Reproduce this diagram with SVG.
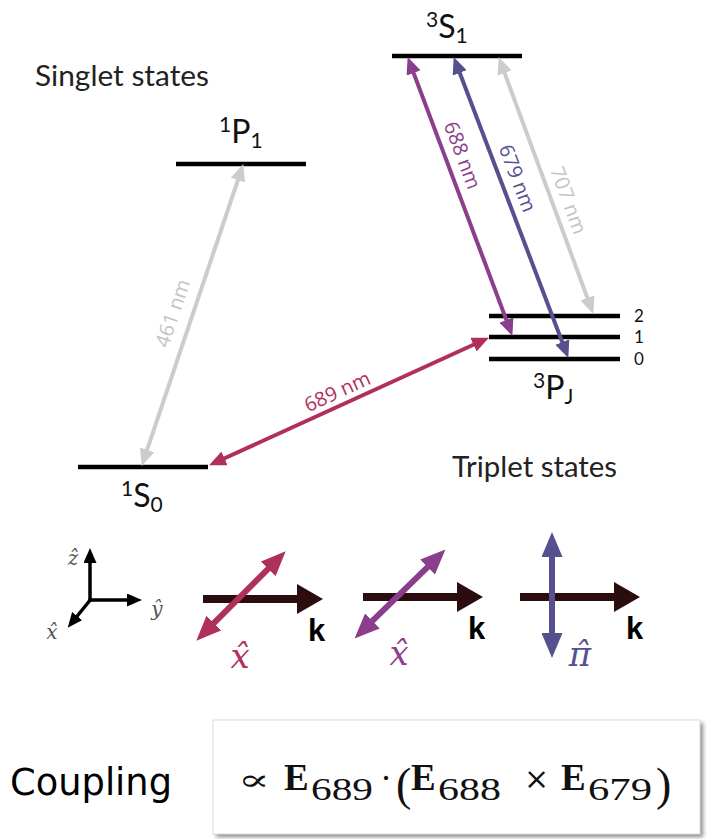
<svg xmlns="http://www.w3.org/2000/svg" width="713" height="839" viewBox="0 0 713 839">
<style>
.lvl{stroke:#000;stroke-width:4.5}
.lab{font-family:Lato,"Open Sans",sans-serif;font-size:32px;fill:#111}
.sm{font-size:21px}
.num{font-family:Lato,"Open Sans",sans-serif;font-size:17px;fill:#111}
.hdr{font-family:Lato,"Open Sans",sans-serif;font-size:28px;fill:#222}
.nm{font-family:"Open Sans","Noto Sans",sans-serif;font-size:20px;text-anchor:middle;dominant-baseline:central}
.math{font-family:"DejaVu Serif","Liberation Serif",serif;font-style:italic;text-anchor:middle}
.k{font-family:"Liberation Sans",Arial,sans-serif;font-weight:bold;font-size:31px;fill:#000}
.frm{font-family:"Liberation Serif","DejaVu Serif",serif;fill:#111}
</style>
<defs>
<marker id="hGray" markerUnits="userSpaceOnUse" markerWidth="17" markerHeight="15" refX="6" refY="7.5" orient="auto-start-reverse"><path d="M0,0 L17,7.5 L0,15 z" fill="#cccccc"/></marker>
<marker id="hPur" markerUnits="userSpaceOnUse" markerWidth="17" markerHeight="15" refX="6" refY="7.5" orient="auto-start-reverse"><path d="M0,0 L17,7.5 L0,15 z" fill="#8a3e8c"/></marker>
<marker id="hInd" markerUnits="userSpaceOnUse" markerWidth="17" markerHeight="15" refX="6" refY="7.5" orient="auto-start-reverse"><path d="M0,0 L17,7.5 L0,15 z" fill="#56508f"/></marker>
<marker id="hCrim" markerUnits="userSpaceOnUse" markerWidth="17" markerHeight="15" refX="6" refY="7.5" orient="auto-start-reverse"><path d="M0,0 L17,7.5 L0,15 z" fill="#b0305c"/></marker>
<marker id="hBlk" markerUnits="userSpaceOnUse" markerWidth="15" markerHeight="13" refX="5" refY="6.5" orient="auto"><path d="M0,0 L15,6.5 L0,13 z" fill="#000"/></marker>
<marker id="hK" markerUnits="userSpaceOnUse" markerWidth="26" markerHeight="30" refX="12" refY="15" orient="auto"><path d="M0,0 L26,15 L0,30 z" fill="#2b0d0f"/></marker>
<marker id="tCrim" markerUnits="userSpaceOnUse" markerWidth="25" markerHeight="21" refX="9" refY="10.5" orient="auto-start-reverse"><path d="M0,0 L25,10.5 L0,21 z" fill="#b0305c"/></marker>
<marker id="tPur" markerUnits="userSpaceOnUse" markerWidth="25" markerHeight="21" refX="9" refY="10.5" orient="auto-start-reverse"><path d="M0,0 L25,10.5 L0,21 z" fill="#8a3e8c"/></marker>
<marker id="tInd" markerUnits="userSpaceOnUse" markerWidth="25" markerHeight="21" refX="9" refY="10.5" orient="auto-start-reverse"><path d="M0,0 L25,10.5 L0,21 z" fill="#56508f"/></marker>
<filter id="sh" x="-5%" y="-5%" width="110%" height="115%"><feGaussianBlur stdDeviation="2"/></filter>
</defs>
<rect width="713" height="839" fill="#fff"/>

<text class="hdr" x="35" y="86" textLength="174" lengthAdjust="spacingAndGlyphs">Singlet states</text>
<text class="hdr" x="452" y="477" textLength="165" lengthAdjust="spacingAndGlyphs">Triplet states</text>

<g id="S1_3">
<line class="lvl" x1="392" y1="56" x2="522" y2="56"/>
<text class="lab" x="426" y="38"><tspan class="sm" dy="-11">3</tspan><tspan dy="11">S</tspan><tspan class="sm" dy="5">1</tspan></text>
</g>
<g id="P1_1">
<line class="lvl" x1="176" y1="164" x2="306" y2="164"/>
<text class="lab" x="219" y="143"><tspan class="sm" dy="-11">1</tspan><tspan dy="11">P</tspan><tspan class="sm" dy="5">1</tspan></text>
</g>
<g id="S0_1">
<line class="lvl" x1="78" y1="467" x2="208" y2="467"/>
<text class="lab" x="121" y="507"><tspan class="sm" dy="-11">1</tspan><tspan dy="11">S</tspan><tspan class="sm" dy="5">0</tspan></text>
</g>
<g id="PJ_3">
<line class="lvl" x1="489" y1="316" x2="620" y2="316"/>
<line class="lvl" x1="489" y1="337" x2="620" y2="337"/>
<line class="lvl" x1="489" y1="359" x2="620" y2="359"/>
<text class="num" x="634" y="322">2</text>
<text class="num" x="634" y="343">1</text>
<text class="num" x="634" y="365">0</text>
<text class="lab" x="533" y="399"><tspan class="sm" dy="-11">3</tspan><tspan dy="11">P</tspan><tspan class="sm" dy="5">J</tspan></text>
</g>

<g id="connectors" fill="none" stroke-width="4">
<line x1="145.2" y1="455.5" x2="239.8" y2="174.5" stroke="#cccccc" marker-start="url(#hGray)" marker-end="url(#hGray)"/>
<line x1="219.1" y1="460.8" x2="478.9" y2="342.2" stroke="#b0305c" marker-start="url(#hCrim)" marker-end="url(#hCrim)"/>
<line x1="411.5" y1="67.4" x2="508.5" y2="325.6" stroke="#8a3e8c" marker-start="url(#hPur)" marker-end="url(#hPur)"/>
<line x1="457.6" y1="67.3" x2="564.4" y2="347.7" stroke="#56508f" marker-start="url(#hInd)" marker-end="url(#hInd)"/>
<line x1="502.5" y1="67.4" x2="589.5" y2="303.6" stroke="#cccccc" marker-start="url(#hGray)" marker-end="url(#hGray)"/>
</g>
<g id="connector-labels">
<text class="nm" transform="translate(172,313) rotate(-71.4)" fill="#c4c4c4">461 nm</text>
<text class="nm" transform="translate(337,391) rotate(-24.5)" fill="#b0305c">689 nm</text>
<text class="nm" transform="translate(463,155) rotate(69.4)" fill="#8a3e8c">688 nm</text>
<text class="nm" transform="translate(518,178) rotate(69.1)" fill="#56508f">679 nm</text>
<text class="nm" transform="translate(569,200) rotate(69.7)" fill="#c4c4c4">707 nm</text>
</g>

<g id="axes">
<g stroke="#000" stroke-width="3.5" fill="none">
<line x1="90" y1="602" x2="90" y2="558" marker-end="url(#hBlk)"/>
<line x1="88.5" y1="600" x2="132" y2="600" marker-end="url(#hBlk)"/>
<line x1="91" y1="599" x2="74" y2="620" marker-end="url(#hBlk)"/>
</g>
<g fill="#555" font-size="20">
<text class="math" x="73" y="565">ẑ</text>
<text class="math" x="157" y="616">ŷ</text>
<text class="math" x="52" y="639">x̂</text>
</g>
</g>

<g id="pol689">
<line x1="203" y1="599" x2="309" y2="599" stroke="#2b0d0f" stroke-width="8" marker-end="url(#hK)"/>
<line x1="207.6" y1="629.4" x2="274.4" y2="562.6" stroke="#b0305c" stroke-width="6" marker-start="url(#tCrim)" marker-end="url(#tCrim)"/>
<text class="math" x="240" y="668" font-size="34" fill="#b0305c">x̂</text>
<text class="k" x="308" y="641">k</text>
</g>
<g id="pol688">
<line x1="363" y1="597" x2="469" y2="597" stroke="#2b0d0f" stroke-width="8" marker-end="url(#hK)"/>
<line x1="366" y1="627.2" x2="434" y2="560.8" stroke="#8a3e8c" stroke-width="6" marker-start="url(#tPur)" marker-end="url(#tPur)"/>
<text class="math" x="399" y="665" font-size="34" fill="#8a3e8c">x̂</text>
<text class="k" x="468" y="639">k</text>
</g>
<g id="pol679">
<line x1="520" y1="597" x2="626" y2="597" stroke="#2b0d0f" stroke-width="8" marker-end="url(#hK)"/>
<line x1="552" y1="548" x2="552" y2="642" stroke="#56508f" stroke-width="6" marker-start="url(#tInd)" marker-end="url(#tInd)"/>
<text class="math" x="580" y="666" font-size="34" fill="#56508f">π̂</text>
<text class="k" x="626" y="639">k</text>
</g>

<g id="coupling">
<text x="10" y="795" font-family="'DejaVu Sans',sans-serif" font-size="37" fill="#000" textLength="162" lengthAdjust="spacingAndGlyphs">Coupling</text>
<rect x="216" y="723" width="487" height="114" fill="#888" filter="url(#sh)"/>
<rect x="213" y="720" width="487" height="114" fill="#fff" stroke="#ddd" stroke-width="1"/>
<g class="frm">
<text x="238" y="790" font-family="'DejaVu Serif',serif" font-size="30" textLength="32" lengthAdjust="spacingAndGlyphs">∝</text>
<text x="284" y="790" font-size="37" font-weight="bold">E</text>
<text x="311" y="800" font-size="31" textLength="62" lengthAdjust="spacingAndGlyphs">689</text>
<text x="380" y="790" font-size="36">·</text>
<text x="396" y="800" font-size="46">(</text>
<text x="411" y="790" font-size="37" font-weight="bold">E</text>
<text x="438" y="800" font-size="31" textLength="63" lengthAdjust="spacingAndGlyphs">688</text>
<text x="524" y="789" font-family="'DejaVu Serif',serif" font-size="30">×</text>
<text x="561" y="790" font-size="37" font-weight="bold">E</text>
<text x="588" y="800" font-size="31" textLength="64" lengthAdjust="spacingAndGlyphs">679</text>
<text x="656" y="800" font-size="46">)</text>
</g>
</g>
</svg>
